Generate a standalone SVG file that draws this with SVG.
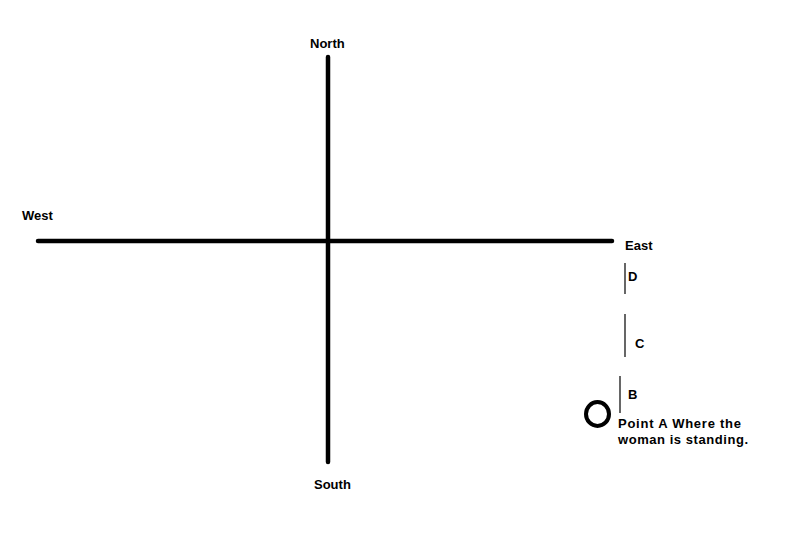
<svg xmlns="http://www.w3.org/2000/svg" width="785" height="541" viewBox="0 0 785 541">
<style>
text{font-family:"Liberation Sans",Arial,sans-serif;font-size:13px;font-weight:bold;fill:#000}
.axis{stroke:#000;stroke-width:4.5;stroke-linecap:round;fill:none}
.seg{stroke:#000;stroke-width:1.2;fill:none}
</style>
<rect width="785" height="541" fill="#fff"/>
<g id="axes">
<line class="axis" x1="38" y1="241" x2="612" y2="241"/>
<line class="axis" x1="328" y1="57" x2="328" y2="462"/>
</g>
<g id="labels">
<text x="310" y="48">North</text>
<text x="22" y="220">West</text>
<text x="625" y="250">East</text>
<text x="314" y="489">South</text>
</g>
<g id="segments">
<line class="seg" x1="625" y1="263" x2="625" y2="294"/>
<text x="628" y="281">D</text>
<line class="seg" x1="625" y1="314" x2="625" y2="357"/>
<text x="635" y="348">C</text>
<line class="seg" x1="620" y1="376" x2="620" y2="413"/>
<text x="628" y="399">B</text>
</g>
<g id="pointA">
<ellipse cx="597.5" cy="414" rx="11.5" ry="12" fill="none" stroke="#000" stroke-width="4"/>
<text x="618" y="428" textLength="123">Point A Where the</text>
<text x="618" y="444" textLength="130">woman is standing.</text>
</g>
</svg>
